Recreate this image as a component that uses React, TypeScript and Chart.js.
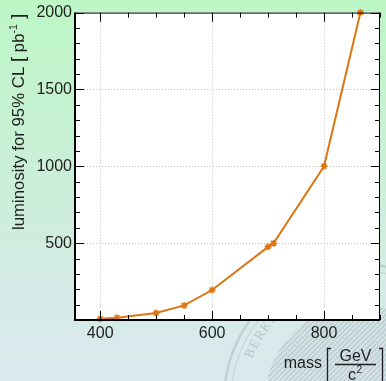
import React, { useEffect, useRef } from "react";
import { Chart, registerables } from "chart.js";

Chart.register(...registerables);

// ---- data ----
const massValues = [400, 430, 500, 550, 600, 700, 710, 800, 865];
const luminosityValues = [8, 15, 45, 95, 195, 476, 500, 1000, 2000];
const xTickLabels = [400, 600, 800];
const yTickLabels = [500, 1000, 1500, 2000];
const xRange = [355, 900];
const yRange = [0, 2000];
const xMinorStep = 50;
const yMinorStep = 100;

const FONT = '"Liberation Sans", Arial, Helvetica, sans-serif';
const LINE_COLOR = "#dc7612";
const TEXT_COLOR = "#1e1e1e";

function drawSeal(ctx: CanvasRenderingContext2D) {
  const cx = 360, cy = 400;
  ctx.save();
  ctx.strokeStyle = "rgba(150,160,175,0.35)";
  ctx.lineWidth = 2.5;
  ctx.beginPath();
  ctx.arc(cx, cy, 136, 0, Math.PI * 2);
  ctx.stroke();
  ctx.lineWidth = 1;
  ctx.beginPath();
  ctx.arc(cx, cy, 129, 0, Math.PI * 2);
  ctx.stroke();
  // letters along the arc
  ctx.fillStyle = "rgba(150,160,175,0.5)";
  ctx.font = '13px "Liberation Serif", serif';
  ctx.textAlign = "center";
  ctx.textBaseline = "middle";
  const word = "BERKELEY";
  let ang = (-157 * Math.PI) / 180;
  for (const ch of word) {
    ctx.save();
    ctx.translate(cx + Math.cos(ang) * 119, cy + Math.sin(ang) * 119);
    ctx.rotate(ang + Math.PI / 2);
    ctx.fillText(ch, 0, 0);
    ctx.restore();
    ang += (5 * Math.PI) / 180;
  }
  // hatching
  ctx.beginPath();
  ctx.arc(cx, cy, 95, 0, Math.PI * 2);
  ctx.clip();
  ctx.strokeStyle = "rgba(150,160,175,0.35)";
  ctx.lineWidth = 2;
  for (let k = -200; k < 200; k += 5) {
    ctx.beginPath();
    ctx.moveTo(cx + k - 100, cy + 100);
    ctx.lineTo(cx + k + 100, cy - 100);
    ctx.stroke();
  }
  ctx.restore();
}

type Piece = { text: string; size: number; dy?: number };

function drawPieces(ctx: CanvasRenderingContext2D, pieces: Piece[], x0: number, y0: number) {
  let x = x0;
  for (const p of pieces) {
    ctx.font = `${p.size}px ${FONT}`;
    ctx.fillText(p.text, x, y0 + (p.dy || 0));
    x += ctx.measureText(p.text).width;
  }
}

function piecesWidth(ctx: CanvasRenderingContext2D, pieces: Piece[]) {
  let w = 0;
  for (const p of pieces) {
    ctx.font = `${p.size}px ${FONT}`;
    w += ctx.measureText(p.text).width;
  }
  return w;
}

const rootPlugin = {
  id: "rootStyle",
  beforeDraw(chart: any) {
    const { ctx, width, height, chartArea: a } = chart;
    ctx.save();
    const g = ctx.createLinearGradient(0, 0, 0, height);
    g.addColorStop(0, "#bdf6c5");
    g.addColorStop(1, "#dbe8ef");
    ctx.fillStyle = g;
    ctx.fillRect(0, 0, width, height);
    drawSeal(ctx);
    ctx.fillStyle = "#ffffff";
    ctx.fillRect(a.left, a.top, a.right - a.left, a.bottom - a.top);
    const xs = chart.scales.x;
    const ys = chart.scales.y;
    ctx.strokeStyle = "#c4c4c4";
    ctx.lineWidth = 1;
    ctx.setLineDash([1, 2]);
    for (const v of xTickLabels) {
      const px = Math.round(xs.getPixelForValue(v)) + 0.5;
      ctx.beginPath();
      ctx.moveTo(px, a.top);
      ctx.lineTo(px, a.bottom);
      ctx.stroke();
    }
    for (const v of yTickLabels) {
      if (v >= yRange[1]) continue;
      const py = Math.round(ys.getPixelForValue(v)) + 0.5;
      ctx.beginPath();
      ctx.moveTo(a.left, py);
      ctx.lineTo(a.right, py);
      ctx.stroke();
    }
    ctx.restore();
  },
  afterDatasetsDraw(chart: any) {
    const { ctx, chartArea: a } = chart;
    const xs = chart.scales.x;
    const ys = chart.scales.y;
    ctx.save();
    ctx.strokeStyle = "#000";
    ctx.lineWidth = 1;
    ctx.beginPath();
    ctx.moveTo(a.left, a.top + 0.5);
    ctx.lineTo(a.right, a.top + 0.5);
    ctx.moveTo(a.right - 0.5, a.top);
    ctx.lineTo(a.right - 0.5, a.bottom);
    ctx.stroke();
    ctx.lineWidth = 2;
    ctx.beginPath();
    ctx.moveTo(a.left, a.top);
    ctx.lineTo(a.left, a.bottom);
    ctx.lineTo(a.right, a.bottom);
    ctx.stroke();
    ctx.lineWidth = 1;
    const major = 9, minor = 5;
    for (let v = Math.ceil(xRange[0] / xMinorStep) * xMinorStep; v <= xRange[1]; v += xMinorStep) {
      const px = Math.round(xs.getPixelForValue(v)) + 0.5;
      const len = xTickLabels.includes(v) ? major : minor;
      ctx.beginPath();
      ctx.moveTo(px, a.bottom);
      ctx.lineTo(px, a.bottom - len);
      ctx.moveTo(px, a.top);
      ctx.lineTo(px, a.top + len);
      ctx.stroke();
    }
    for (let v = yRange[0] + yMinorStep; v <= yRange[1]; v += yMinorStep) {
      const py = Math.round(ys.getPixelForValue(v)) + 0.5;
      const len = yTickLabels.includes(v) ? major : minor;
      ctx.beginPath();
      ctx.moveTo(a.left, py);
      ctx.lineTo(a.left + len, py);
      ctx.moveTo(a.right, py);
      ctx.lineTo(a.right - len, py);
      ctx.stroke();
    }
    ctx.restore();
  },
  afterDraw(chart: any) {
    const { ctx, chartArea: a } = chart;
    ctx.save();
    ctx.fillStyle = TEXT_COLOR;
    ctx.strokeStyle = TEXT_COLOR;
    ctx.textBaseline = "alphabetic";
    ctx.textAlign = "left";
    const yPieces: Piece[] = [
      { text: "luminosity for 95% CL ", size: 16.8 },
      { text: "[", size: 19 },
      { text: " pb", size: 16.8 },
      { text: "-1", size: 10.5, dy: -7 },
      { text: " ]", size: 19 },
    ];
    const yw = piecesWidth(ctx, yPieces);
    ctx.save();
    ctx.translate(24, 0);
    ctx.rotate(-Math.PI / 2);
    drawPieces(ctx, yPieces, -(a.top + 1) - yw, 0);
    ctx.restore();
    ctx.font = `16px ${FONT}`;
    ctx.textAlign = "right";
    ctx.fillText("mass", 322, 368);
    ctx.lineWidth = 1.3;
    ctx.beginPath();
    ctx.moveTo(331, 348.5);
    ctx.lineTo(327.5, 348.5);
    ctx.lineTo(327.5, 386);
    ctx.moveTo(379, 348.5);
    ctx.lineTo(382.5, 348.5);
    ctx.lineTo(382.5, 386);
    ctx.stroke();
    ctx.textAlign = "center";
    ctx.fillText("GeV", 355.5, 361);
    ctx.lineWidth = 1.5;
    ctx.beginPath();
    ctx.moveTo(335, 364.5);
    ctx.lineTo(376, 364.5);
    ctx.stroke();
    ctx.textAlign = "left";
    ctx.fillText("c", 348, 380);
    ctx.font = `10px ${FONT}`;
    ctx.fillText("2", 356.5, 373);
    ctx.restore();
  },
};

export default function App() {
  const canvasRef = useRef<HTMLCanvasElement | null>(null);

  useEffect(() => {
    document.body.style.margin = "0";
    const canvas = canvasRef.current;
    if (!canvas) return;
    const points = massValues.map((m, i) => ({ x: m, y: luminosityValues[i] }));
    const chart = new Chart(canvas, {
      type: "line",
      data: {
        datasets: [
          {
            data: points,
            borderColor: LINE_COLOR,
            backgroundColor: LINE_COLOR,
            borderWidth: 2,
            pointStyle: "star",
            pointRadius: 3.5,
            pointBorderWidth: 1.5,
            pointBorderColor: LINE_COLOR,
            tension: 0,
            fill: false,
            clip: 8,
          } as any,
        ],
      },
      options: {
        animation: false,
        responsive: false,
        maintainAspectRatio: false,
        devicePixelRatio: 1,
        layout: { padding: { left: 0, right: 6, top: 12, bottom: 0 } },
        plugins: {
          legend: { display: false },
          tooltip: { enabled: false },
          title: { display: false },
        },
        scales: {
          x: {
            type: "linear",
            min: xRange[0],
            max: xRange[1],
            grid: { display: false, drawTicks: false },
            border: { display: false },
            ticks: {
              color: TEXT_COLOR,
              font: { family: FONT, size: 16 },
              padding: 4,
              maxRotation: 0,
              autoSkip: false,
              callback: (v: any) => String(v),
            },
            afterBuildTicks: (scale: any) => {
              scale.ticks = xTickLabels.map((v) => ({ value: v }));
            },
            afterFit: (scale: any) => {
              scale.height = 61;
            },
          },
          y: {
            type: "linear",
            min: yRange[0],
            max: yRange[1],
            grid: { display: false, drawTicks: false },
            border: { display: false },
            ticks: {
              color: TEXT_COLOR,
              font: { family: FONT, size: 16 },
              padding: 3,
              autoSkip: false,
              callback: (v: any) => String(v),
            },
            afterBuildTicks: (scale: any) => {
              scale.ticks = yTickLabels.map((v) => ({ value: v }));
            },
            afterFit: (scale: any) => {
              scale.width = 75;
            },
          },
        },
      } as any,
      plugins: [rootPlugin as any],
    });
    return () => chart.destroy();
  }, []);

  return (
    <div style={{ width: 386, height: 381 }}>
      <canvas ref={canvasRef} width={386} height={381} style={{ display: "block", width: 386, height: 381 }} />
    </div>
  );
}
